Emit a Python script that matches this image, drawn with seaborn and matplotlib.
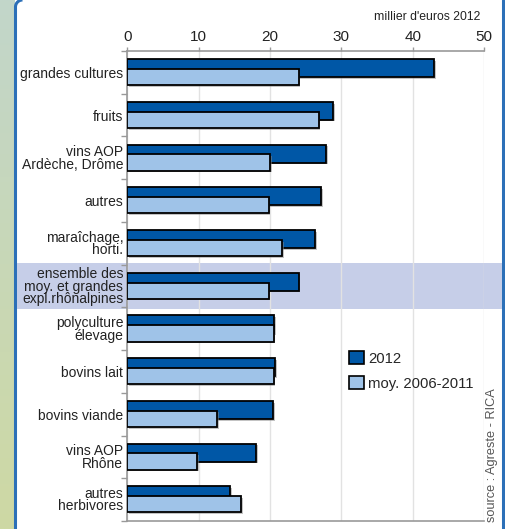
import numpy as np
import pandas as pd
import matplotlib
matplotlib.use("Agg")
import matplotlib.pyplot as plt
import matplotlib.patheffects as pe
import seaborn as sns
from matplotlib.patches import Patch, Rectangle

categories = ["grandes cultures", "fruits", "vins AOP\nArdèche, Drôme", "autres",
              "maraîchage,\nhorti.", "ensemble des\nmoy. et grandes\nexpl.rhônalpines",
              "polyculture\nélevage", "bovins lait", "bovins viande", "vins AOP\nRhône",
              "autres\nherbivores"]
v2012 = [43.0, 28.8, 27.9, 27.2, 26.3, 24.0, 20.6, 20.7, 20.4, 18.0, 14.4]
vmoy = [24.0, 26.8, 20.0, 19.8, 21.7, 19.8, 20.5, 20.5, 12.6, 9.8, 15.9]
series_names = ["2012", "moy. 2006-2011"]
x_ticks = [0, 10, 20, 30, 40, 50]
unit_label = "millier d'euros 2012"
source_label = "source : Agreste - RICA"
highlight = "ensemble des\nmoy. et grandes\nexpl.rhônalpines"

dark = "#0057a6"
light = "#9fc3e8"

sns.set_style("white")
plt.rcParams['font.family'] = ['Liberation Sans', 'DejaVu Sans']

W, H = 506, 529
fig = plt.figure(figsize=(W / 100, H / 100), dpi=100)
fig.patch.set_facecolor("white")

# background decoration
bg = fig.add_axes([0, 0, 1, 1], zorder=-10)
bg.set_xlim(0, W)
bg.set_ylim(H, 0)
bg.axis("off")
top_c = np.array([0xc2, 0xd6, 0xca]) / 255
bot_c = np.array([0xce, 0xd9, 0xa4]) / 255
t = np.linspace(0, 1, 200)[:, None, None]
grad = top_c * (1 - t) + bot_c * t
bg.imshow(grad, extent=(0, 15, H, 0), aspect="auto")
theta = np.linspace(np.pi, 1.5 * np.pi, 30)
r = 7
xs = np.concatenate([[15.5], 15.5 + r + r * np.cos(theta)])
ys = np.concatenate([[H], r + r * np.sin(theta)])
bg.plot(xs, ys, color="#2c70b8", lw=2.2, solid_capstyle="butt")
bg.plot([503, 503], [0, H], color="#2c70b8", lw=2.2)
bg.add_patch(Rectangle((504.5, 0), 2, H, color="#e6e6e6"))

left, right, top, bottom = 127.5, 484, 51, 521
ax = fig.add_axes([left / W, 1 - bottom / H, (right - left) / W, (bottom - top) / H])

df = pd.DataFrame({"cat": categories, "v2012": v2012, "vmoy": vmoy})
df["pos"] = np.arange(len(categories))

shadow = [pe.SimplePatchShadow(offset=(1.2, -1.2), shadow_rgbFace="#888888", alpha=0.5),
          pe.Normal()]
sns.barplot(x=df["v2012"], y=df["pos"] - 0.1, orient="h", native_scale=True,
            width=0.42, color=dark, saturation=1, edgecolor="black",
            linewidth=1.3, ax=ax, zorder=3)
n1 = len(ax.patches)
sns.barplot(x=df["vmoy"], y=df["pos"] + 0.11, orient="h", native_scale=True,
            width=0.38, color=light, saturation=1, edgecolor="black",
            linewidth=1.3, ax=ax, zorder=4)
for p in ax.patches:
    p.set_path_effects(shadow)

hi = categories.index(highlight)
ax.axhspan(hi - 0.53, hi + 0.53, xmin=(17 - left) / (right - left),
           xmax=(502 - left) / (right - left), color="#c6cee8", zorder=0,
           clip_on=False, lw=0)

ax.set_xlim(0, 50)
ax.set_ylim(len(categories) - 0.5, -0.5)
ax.xaxis.tick_top()
ax.set_xticks(x_ticks)
ax.set_xticklabels([str(v) for v in x_ticks], fontsize=11, color="#222222")
ax.tick_params(axis="x", top=True, length=3, width=1, color="#999999", pad=2)
ax.set_yticks(df["pos"])
ax.set_yticklabels(categories, fontsize=10, color="#222222", linespacing=0.85)
ax.tick_params(axis="y", length=0, pad=3)
ax.set_yticks(np.arange(len(categories) + 1) - 0.5, minor=True)
ax.tick_params(axis="y", which="minor", left=True, length=4, width=1, color="#999999")
ax.set_xlabel("")
ax.set_ylabel("")
ax.grid(axis="x", color="#e2e2e2", lw=1, zorder=1)
ax.set_axisbelow(True)
for s in ["top", "left", "bottom"]:
    ax.spines[s].set_color("#999999")
    ax.spines[s].set_linewidth(1.2)
ax.spines["right"].set_visible(False)
ax.set_facecolor("none")

fig.text(480 / W, 1 - 17 / H, unit_label, ha="right", va="center", fontsize=8.8,
         color="#222222")
fig.text(492 / W, 1 - 522 / H, source_label, rotation=90, ha="center", va="bottom",
         fontsize=9.2, color="#555555")

handles = [Patch(facecolor=dark, edgecolor="black", lw=1.2),
           Patch(facecolor=light, edgecolor="black", lw=1.2)]
ax.legend(handles, series_names, loc="upper left",
          bbox_to_anchor=((349 - left) / (right - left), 1 - (351 - top) / (bottom - top)),
          frameon=False, fontsize=10.7, handlelength=1.0, handleheight=1.0,
          handletextpad=0.3, labelspacing=0.7, borderpad=0, borderaxespad=0)

fig.savefig("out.png", dpi=100, facecolor="white")
